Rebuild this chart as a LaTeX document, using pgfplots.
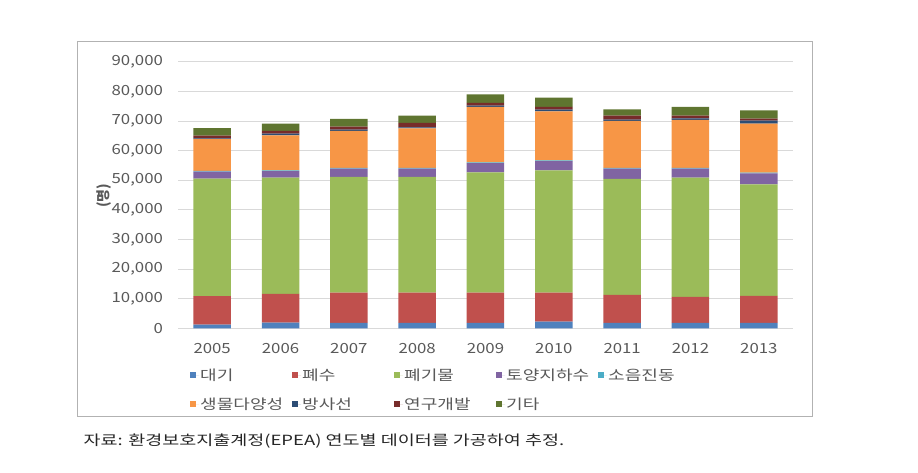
\documentclass[border=0pt]{standalone}
\usepackage{fontspec}
\setmainfont{Noto Sans CJK KR}
\usepackage{graphicx}
\usepackage{pgfplots}
\pgfplotsset{compat=1.18}
\definecolor{cA}{HTML}{4F81BD}
\definecolor{cB}{HTML}{C0504D}
\definecolor{cC}{HTML}{9BBB59}
\definecolor{cD}{HTML}{8064A2}
\definecolor{cE}{HTML}{4BACC6}
\definecolor{cF}{HTML}{F79646}
\definecolor{cG}{HTML}{2C4D75}
\definecolor{cH}{HTML}{772C2A}
\definecolor{cI}{HTML}{5F7530}
\definecolor{txt}{HTML}{595959}
\definecolor{grd}{HTML}{D9D9D9}
\newcommand{\lgent}[1]{\makebox[91pt][l]{\scalebox{1.29}[1]{#1}}}
\pgfplotstableread{
x A B C D E F G H I
0 1250 9650 39630 2340 250 10780 200 940 2560
1 1900 9700 39270 2220 250 11810 560 900 2480
2 1850 10200 39040 2790 250 12480 450 1020 2580
3 1850 10200 39040 2790 250 13380 340 1460 2480
4 1850 10150 40670 3120 250 18670 450 900 2930
5 2250 9800 41290 3130 250 16530 560 900 3150
6 1850 9400 39170 3460 250 15860 450 1350 2130
7 1850 8720 40300 3010 250 16200 500 960 2920
8 1850 9060 37690 3700 250 16540 1000 690 2810
}\data
\begin{document}
\begin{tikzpicture}
\useasboundingbox (0,0) rectangle (918pt,473pt);
\draw[gray!60, line width=1pt] (77pt,56pt) rectangle (812pt,431pt);
\begin{axis}[
  at={(178pt,144.7pt)}, anchor=south west,
  scale only axis, width=615pt, height=266.6pt,
  ybar stacked, bar width=37.5pt,
  xmin=-0.5, xmax=8.5, ymin=0, ymax=90000,
  xtick={0,...,8},
  xticklabels={2005,2006,2007,2008,2009,2010,2011,2012,2013},
  ytick={0,10000,...,90000},
  scaled y ticks=false,
  /pgf/number format/.cd, fixed, 1000 sep={,}, assume math mode=true, /pgfplots/.cd,
  ymajorgrids, grid style={grd, line width=0.8pt},
  axis line style={draw=none},
  major tick length=0pt,
  tick label style={font=\fontsize{14}{16}\selectfont, text=txt, xscale=1.2},
  yticklabel style={xshift=-9pt},
  xticklabel style={yshift=-12pt},
  legend columns=5,
  legend cell align=left,
  legend style={at={(axis description cs:0.0146,-0.139)}, anchor=north west, draw=none, fill=none,
    font=\fontsize{14}{16}\selectfont, text=txt, row sep=14pt, nodes={inner sep=1pt}},
  legend image code/.code={\fill[#1] (0pt,-3pt) rectangle (6pt,3pt); \path (0pt,0pt) -- (9pt,0pt);},
]
\addplot[fill=cA, draw=none] table[x=x,y=A]{\data};
\addplot[fill=cB, draw=none] table[x=x,y=B]{\data};
\addplot[fill=cC, draw=none] table[x=x,y=C]{\data};
\addplot[fill=cD, draw=none] table[x=x,y=D]{\data};
\addplot[fill=cE, draw=none] table[x=x,y=E]{\data};
\addplot[fill=cF, draw=none] table[x=x,y=F]{\data};
\addplot[fill=cG, draw=none] table[x=x,y=G]{\data};
\addplot[fill=cH, draw=none] table[x=x,y=H]{\data};
\addplot[fill=cI, draw=none] table[x=x,y=I]{\data};
\addlegendentry{\lgent{대기}}
\addlegendentry{\lgent{폐수}}
\addlegendentry{\lgent{폐기물}}
\addlegendentry{\lgent{토양지하수}}
\addlegendentry{\lgent{소음진동}}
\addlegendentry{\lgent{생물다양성}}
\addlegendentry{\lgent{방사선}}
\addlegendentry{\lgent{연구개발}}
\addlegendentry{\lgent{기타}}
\end{axis}
\node[rotate=90, font=\fontsize{14}{16}\selectfont\bfseries, text=txt] at (104pt,277.3pt) {(명)};
\node[anchor=west, xscale=1.32, font=\fontsize{14}{16}\selectfont, text=black!85] at (79pt,32pt) {자료: 환경보호지출계정(EPEA) 연도별 데이터를 가공하여 추정.};
\end{tikzpicture}
\end{document}
